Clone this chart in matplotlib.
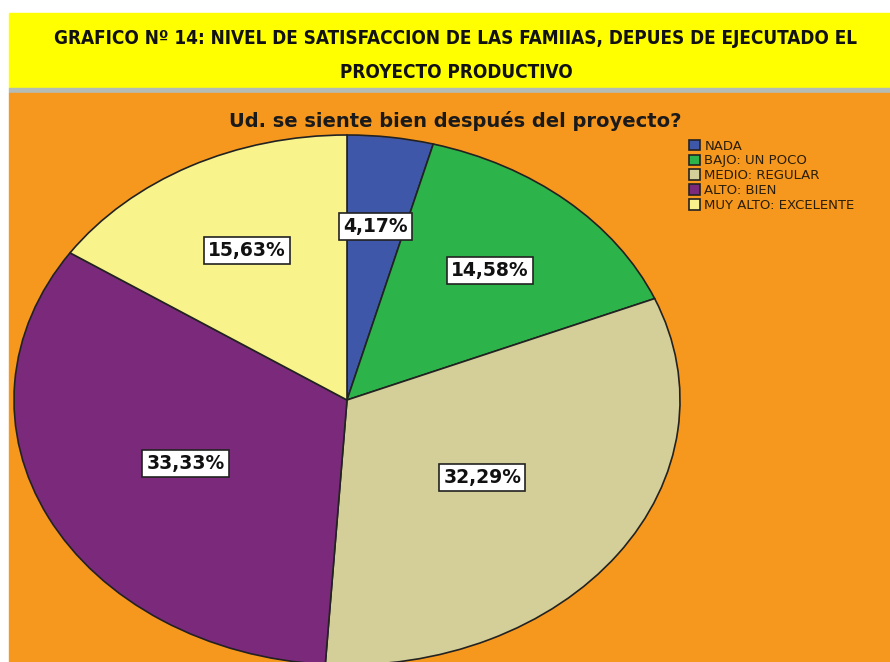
import numpy as np
import matplotlib
matplotlib.use("Agg")
import matplotlib.pyplot as plt
from matplotlib.patches import Rectangle, Patch
from matplotlib import font_manager

# data
categorias = ["NADA", "BAJO: UN POCO", "MEDIO: REGULAR", "ALTO: BIEN", "MUY ALTO: EXCELENTE"]
porcentajes = [4.17, 14.58, 32.29, 33.33, 15.63]
colores = ["#3f57a8", "#2cb34a", "#d4cf98", "#7b2a7b", "#f8f38a"]

titulo1 = "GRAFICO Nº 14: NIVEL DE SATISFACCION DE LAS FAMIIAS, DEPUES DE EJECUTADO EL"
titulo2 = "PROYECTO PRODUCTIVO"
subtitulo = "Ud. se siente bien después del proyecto?"

W, H = 890, 662
fig = plt.figure(figsize=(W / 100, H / 100), dpi=100)
fig.patch.set_facecolor("white")

# pixel -> figure fraction
def fx(px):
    return px / W

def fy(py):
    return 1 - py / H

# backgrounds
for y0, y1, c in [(13, 88, "#ffff00"), (88, 93, "#b4bcb8"), (93, H, "#f7981e")]:
    fig.patches.append(Rectangle((fx(9), fy(y1)), 1 - fx(9), fy(y0) - fy(y1),
                                 transform=fig.transFigure, color=c, zorder=-10))

# title (condensed if available, then fit to width)
names = [f for f in font_manager.fontManager.ttflist
         if f.name == "DejaVu Sans" and f.stretch == "condensed"]
stretch = "condensed" if names else "normal"
t1 = fig.text(fx(455), fy(38), titulo1, ha="center", va="center", fontsize=15,
              fontweight="bold", family="DejaVu Sans", fontstretch=stretch, color="#111111")
t2 = fig.text(fx(456), fy(72), titulo2, ha="center", va="center", fontsize=15,
              fontweight="bold", family="DejaVu Sans", fontstretch=stretch, color="#111111")
r = fig.canvas.get_renderer()
wpx = t1.get_window_extent(r).width
fs = min(15, 15 * 806 / wpx)
t1.set_fontsize(fs)
t2.set_fontsize(fs)

fig.text(fx(455), fy(121), subtitulo, ha="center", va="center", fontsize=14,
         fontweight="bold", family="DejaVu Sans", color="#1a1a1a")

# pie (elliptical: center 347,400 ; rx 333 ; ry 265)
cx, cy, rx, ry = 347, 400, 333, 265
ax = fig.add_axes([fx(cx - rx), fy(cy + ry), 2 * rx / W, 2 * ry / H])
ax.patch.set_alpha(0)
wedges, _ = ax.pie(porcentajes, colors=colores, startangle=90, counterclock=False,
                   wedgeprops=dict(edgecolor="#222222", linewidth=1.2))
ax.set_aspect("auto")
ax.set_xlim(-1, 1)
ax.set_ylim(-1, 1)
ax.axis("off")

# label radii
radios = [0.66, 0.65, 0.50, 0.54, 0.64]
for w, v, rr in zip(wedges, porcentajes, radios):
    ang = np.deg2rad((w.theta1 + w.theta2) / 2)
    ax.text(rr * np.cos(ang), rr * np.sin(ang), ("%.2f%%" % v).replace(".", ","),
            ha="center", va="center", fontsize=13.5, fontweight="bold",
            family="DejaVu Sans", color="#111111",
            bbox=dict(boxstyle="square,pad=0.22", fc="white", ec="#222222", lw=1.2))

# legend
handles = [Patch(facecolor=c, edgecolor="#222222", linewidth=1.2) for c in colores]
fig.legend(handles, categorias, loc="upper left", bbox_to_anchor=(fx(682), fy(133)),
           frameon=False, handlelength=0.85, handleheight=0.85,
           handletextpad=0.35, labelspacing=0.14, borderpad=0, labelcolor="#2a1e0a",
           prop=dict(family="DejaVu Sans", size=9.5))

fig.savefig("out.png", dpi=100)
